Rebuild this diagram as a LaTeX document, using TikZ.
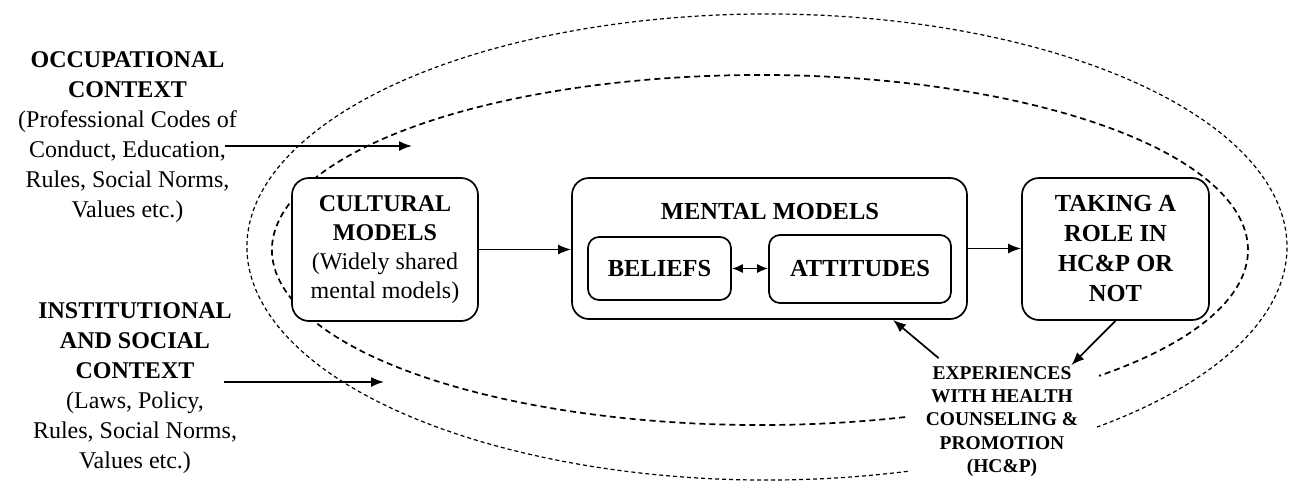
\documentclass[tikz,border=0pt]{standalone}
\usepackage{fontspec}
\setmainfont{Liberation Serif}
\usetikzlibrary{arrows.meta,calc}
\begin{document}
\begin{tikzpicture}[x=1pt,y=-1pt,
  box/.style={draw,line width=1.7pt,rounded corners=17pt,fill=white,align=center,inner sep=0pt},
  smallbox/.style={draw,line width=1.7pt,rounded corners=11pt,fill=white,align=center,inner sep=0pt,font=\bfseries\fontsize{24.5}{30}\selectfont},
  arr/.style={line width=1.7pt,-{Latex[length=13pt,width=10pt]}},
  darr/.style={line width=1.7pt,{Latex[length=11pt,width=9pt]}-{Latex[length=11pt,width=9pt]}},
  outerdash/.style={line width=1.2pt,dash pattern=on 4pt off 3pt},
  innerdash/.style={line width=1.7pt,dash pattern=on 6pt off 4pt},
  ctx/.style={align=center,font=\fontsize{24}{30}\selectfont,inner sep=0pt},
]
\useasboundingbox (0,0) rectangle (1291,480);

% context ellipses
\draw[outerdash] (767,247) ++(74.3:520 and 233)
  arc[start angle=74.3,end angle=410.6,x radius=520,y radius=233];
\draw[innerdash] (760,250) ++(72.7:488 and 175)
  arc[start angle=72.7,end angle=406,x radius=488,y radius=175];

% left context texts
\node[ctx] (occ) at (127.5,137) {\textbf{OCCUPATIONAL}\\\textbf{CONTEXT}\\(Professional Codes of\\Conduct, Education,\\Rules, Social Norms,\\Values etc.)};
\node[ctx] (inst) at (135,388) {\textbf{INSTITUTIONAL}\\\textbf{AND SOCIAL}\\\textbf{CONTEXT}\\(Laws, Policy,\\Rules, Social Norms,\\Values etc.)};
\coordinate (occA) at (225,146);
\coordinate (occB) at (412,146);
\coordinate (instA) at (224,382);
\coordinate (instB) at (384,382);
\draw[arr] (occA) -- (occB);
\draw[arr] (instA) -- (instB);

% boxes
\node[box,minimum width=186,minimum height=143,font=\fontsize{24}{29}\selectfont] (cult) at (385,249.5)
  {\textbf{CULTURAL}\\\textbf{MODELS}\\(Widely shared\\mental models)};
\node[box,minimum width=395,minimum height=141] (mental) at (769.5,248.5) {};
\node[font=\bfseries\fontsize{24.5}{30}\selectfont,inner sep=0pt] (mtitle) at (770,212) {MENTAL MODELS};
\node[smallbox,minimum width=143,minimum height=63] (bel) at (659.5,268.5) {BELIEFS};
\node[smallbox,minimum width=182,minimum height=68] (att) at (860,269) {ATTITUDES};
\node[box,minimum width=187,minimum height=142,font=\bfseries\fontsize{24.5}{30}\selectfont] (take) at (1115.5,249)
  {TAKING A\\ROLE IN\\HC\&P OR\\NOT};

\node[align=center,font=\bfseries\fontsize{19.5}{23.3}\selectfont,inner sep=1pt] (exp) at (1002,421.5)
  {EXPERIENCES\\WITH HEALTH\\COUNSELING \&\\PROMOTION\\(HC\&P)};

% connectors
\draw[arr] (cult.east) -- (cult.east -| mental.west);
\draw[arr] (mental.east) -- (mental.east -| take.west);
\draw[darr] (bel.east) -- (bel.east -| att.west);
\draw[arr] (take.south) -- ($(exp.north east)+(-8,0)$);
\draw[arr] ($(exp.north west)+(14,-7)$) -- ($(mental.south)+(123.5,0)$);
\end{tikzpicture}
\end{document}
